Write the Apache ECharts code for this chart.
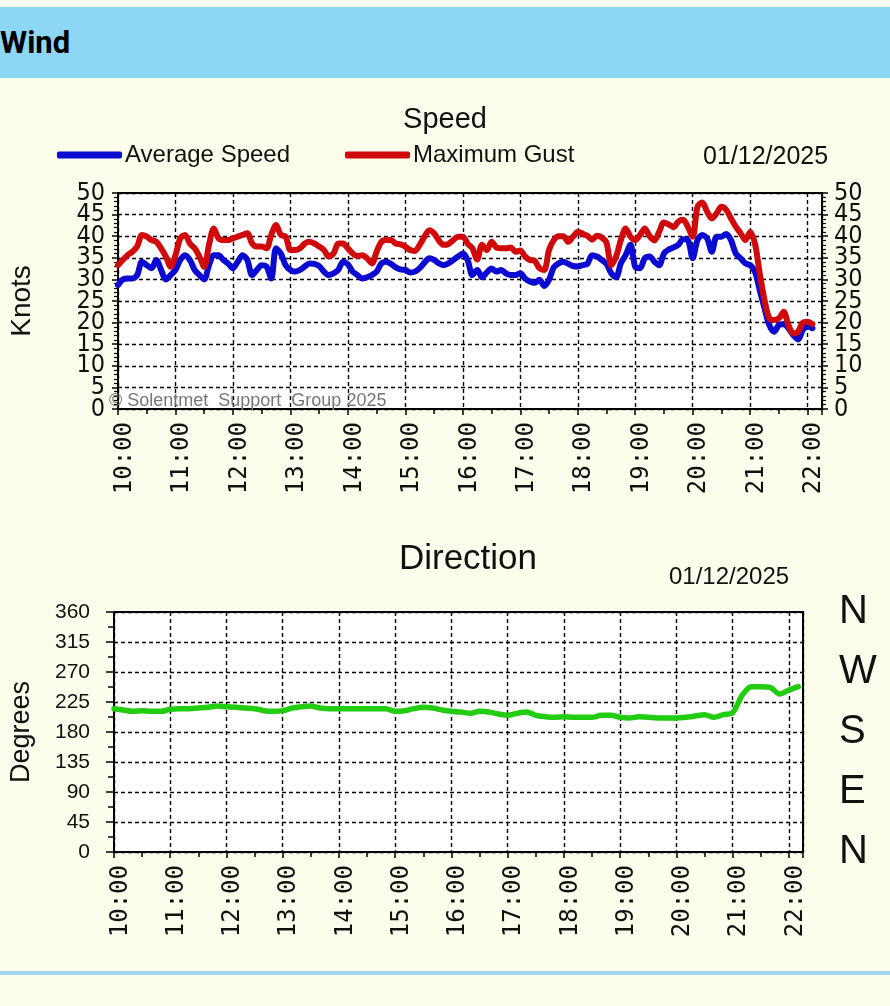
<!DOCTYPE html>
<html>
<head>
<meta charset="utf-8">
<script src="https://cdn.jsdelivr.net/npm/echarts@6/dist/echarts.min.js"></script>
<style>
  html, body { margin: 0; padding: 0; width: 890px; height: 1006px; background: #fdfdeb; overflow: hidden; }
  #hdr { position: absolute; left: 0; top: 7px; width: 890px; height: 71px; background: #8dd7f6; }
  #hdr span { position: absolute; left: 0; top: 19px; font: bold 31px Roboto, 'Liberation Sans', sans-serif; color: #000; line-height: 34px; }
  #sep { position: absolute; left: 0; top: 971px; width: 890px; height: 4px; background: #9ed6ee; }
  #chart { position: absolute; left: 0; top: 0; width: 890px; height: 1006px; }
</style>
</head>
<body>
<div id="hdr"><span>Wind</span></div>
<div id="sep"></div>
<div id="chart"></div>
<script>
// ---------------- data ----------------
const headerTitle = 'Wind';
const speedTitle = 'Speed';
const directionTitle = 'Direction';
const dateText = '01/12/2025';
const copyrightText = '\u00A9 Solentmet  Support  Group 2025';
const seriesNames = ['Average Speed', 'Maximum Gust'];
const speedAxisName = 'Knots';
const directionAxisName = 'Degrees';
const compassLabels = { 360: 'N', 270: 'W', 180: 'S', 90: 'E', 0: 'N' };

// samples every 5 minutes starting 10:00
const speedStartTime = '10:00';
const speedStepMinutes = 5;
const avgSpeed = [
  28.7, 30.0, 30.2, 30.2, 31.0, 34.1, 33.3, 32.6, 34.5, 32.2, 30.0, 31.0,
  32.2, 34.5, 35.6, 34.5, 32.2, 31.0, 30.0, 33.3, 35.6, 35.6, 34.5, 33.7,
  32.6, 34.1, 35.6, 34.5, 31.0, 32.2, 33.3, 33.0, 30.2, 37.2, 36.0, 33.3,
  32.2, 31.8, 32.2, 33.0, 33.7, 33.6, 33.1, 31.8, 31.0, 31.4, 32.2, 34.1,
  33.5, 31.8, 31.0, 30.2, 30.5, 31.0, 31.8, 33.7, 34.1, 33.6, 32.8, 32.3,
  32.2, 31.6, 31.8, 32.6, 33.9, 34.9, 34.5, 33.7, 33.3, 33.7, 34.5, 35.3,
  36.0, 34.5, 31.0, 32.2, 30.5, 31.6, 32.5, 31.8, 32.2, 31.4, 31.0, 31.0,
  31.4, 30.2, 29.5, 29.2, 29.9, 28.5, 29.9, 32.8, 33.7, 34.1, 33.6, 33.1,
  33.0, 33.3, 33.6, 35.6, 35.3, 34.5, 33.6, 31.4, 30.5, 33.7, 35.6, 38.0,
  32.9, 32.6, 34.9, 35.3, 34.1, 33.3, 36.0, 36.9, 37.4, 38.0, 39.3, 39.1,
  34.9, 39.1, 40.3, 39.5, 36.4, 39.9, 39.9, 40.5, 39.1, 36.0, 34.9, 33.7,
  33.3, 31.8, 27.5, 23.3, 19.4, 17.9, 19.4, 19.7, 18.7, 17.1, 16.1, 18.3,
  19.1, 18.7
];
const maxGust = [
  33.3, 34.5, 35.6, 36.4, 37.6, 40.3, 39.9, 39.1, 38.7, 37.2, 35.3, 32.9,
  35.6, 39.5, 40.3, 38.3, 37.2, 35.3, 32.9, 38.0, 41.8, 39.5, 39.1, 39.1,
  39.5, 39.9, 40.3, 40.7, 38.3, 37.6, 37.6, 37.2, 40.3, 42.6, 40.3, 39.9,
  36.8, 36.8, 37.2, 38.3, 38.7, 38.3, 37.6, 36.8, 35.3, 36.0, 38.3, 38.3,
  37.2, 36.0, 35.4, 35.6, 34.9, 33.7, 36.4, 38.7, 39.1, 39.1, 38.3, 38.1,
  37.6, 36.8, 36.6, 38.0, 39.9, 41.4, 40.7, 39.0, 38.0, 38.2, 39.1, 39.9,
  39.9, 38.3, 37.2, 34.6, 38.0, 36.8, 38.7, 37.4, 37.2, 37.2, 37.4, 36.4,
  36.7, 35.3, 34.5, 34.3, 32.6, 32.2, 36.8, 39.1, 40.0, 40.0, 38.7, 39.9,
  41.0, 40.6, 40.1, 39.2, 40.1, 39.7, 38.5, 33.3, 35.3, 39.1, 41.8, 39.9,
  39.1, 40.3, 41.8, 40.0, 39.0, 41.0, 43.2, 42.7, 42.1, 43.4, 43.8, 42.1,
  39.9, 46.8, 47.8, 45.7, 44.1, 45.3, 46.8, 46.1, 44.1, 42.2, 40.7, 39.1,
  41.0, 38.3, 31.4, 25.2, 21.0, 20.6, 21.0, 22.5, 19.4, 17.5, 17.9, 20.0,
  20.2, 19.7
];

// samples every 10 minutes starting 10:00
const dirStartTime = '10:00';
const dirStepMinutes = 10;
const direction = [
  215, 213, 211, 212, 211, 211,
  214, 215, 215, 216, 217, 219,
  218, 217, 216, 215, 212, 211,
  212, 216, 218, 219, 216, 215,
  215, 215, 215, 215, 215, 215,
  211, 212, 215, 217, 216, 213,
  211, 210, 208, 211, 210, 207,
  205, 208, 210, 205, 203, 202,
  203, 202, 202, 202, 205, 205,
  202, 201, 203, 202, 201, 201,
  201, 202, 204, 206, 202, 206,
  209, 235, 248, 248, 247, 237,
  243, 248
];

const hourTicks = ['10:00','11:00','12:00','13:00','14:00','15:00','16:00','17:00','18:00','19:00','20:00','21:00','22:00'];
const speedTicks = [0, 5, 10, 15, 20, 25, 30, 35, 40, 45, 50];
const degreeTicks = [0, 45, 90, 135, 180, 225, 270, 315, 360];

// ---------------- helpers ----------------
function toMin(s) { const p = s.split(':'); return (+p[0]) * 60 + (+p[1]); }
const axisOrigin = toMin(hourTicks[0]);
function pairs(start, step, vals) {
  const s0 = toMin(start) - axisOrigin;
  return vals.map((v, i) => [s0 + i * step, v]);
}
function fmtTime(v) {
  if (v % 60 !== 0) return '';
  const h = axisOrigin / 60 + v / 60;
  const lbl = (h < 10 ? '0' : '') + h + ':00';
  return hourTicks.indexOf(lbl) >= 0 ? lbl : '';
}
// speed labels split over two overlaid axes so that none is dropped as "overlapping"
const oddSpeed = v => (speedTicks.indexOf(v) >= 0 && v % 10 !== 0) ? String(v) : '';
const evenSpeed = v => (speedTicks.indexOf(v) >= 0 && v % 10 === 0) ? String(v) : '';

const narrow = "'Liberation Sans Narrow','DejaVu Sans Condensed','Liberation Sans',sans-serif";
const sans = "'Liberation Sans',Arial,sans-serif";
const mono = "'DejaVu Sans Mono',monospace";
const xMax = 735;
const black = '#000';

function xAxisCfg(grid) {
  return {
    type: 'value', gridIndex: grid, min: 0, max: xMax, interval: 60,
    axisLine: { show: true, lineStyle: { color: black, width: 2 } },
    axisTick: { show: true, inside: false, length: 6, lineStyle: { color: black, width: 1.5 } },
    minorTick: { show: true, splitNumber: 2, length: 5, lineStyle: { color: black, width: 1.5 } },
    splitLine: { show: true, lineStyle: { color: black, type: [4, 3], width: 1.4 } },
    axisLabel: { rotate: 90, margin: 13, formatter: fmtTime, fontFamily: mono, fontSize: 24, color: '#111',
      showMaxLabel: false, verticalAlign: 'top', lineHeight: 13 }
  };
}
function speedAxis(pos, labelled5, withLine) {
  return {
    type: 'value', gridIndex: 0, min: 0, max: 50, interval: labelled5 ? 5 : 10, position: pos, offset: 0,
    axisLine: { show: withLine, lineStyle: { color: black, width: 2 } },
    axisTick: { show: withLine, length: 6, lineStyle: { color: black, width: 1.5 } },
    minorTick: { show: withLine, splitNumber: 5, length: 4, lineStyle: { color: black, width: 1.2 } },
    splitLine: { show: withLine && pos === 'left', lineStyle: { color: black, type: [4, 3], width: 1.4 } },
    axisLabel: { margin: pos === 'left' ? 13 : 12, fontFamily: narrow, fontSize: 25, color: '#111',
      formatter: labelled5 ? oddSpeed : evenSpeed }
  };
}

const chart = echarts.init(document.getElementById('chart'), null, { renderer: 'canvas' });
const yAxes = [
  speedAxis('left', true, true),
  speedAxis('left', false, false),
  speedAxis('right', true, true),
  speedAxis('right', false, false),
  { type: 'value', gridIndex: 1, min: 0, max: 360, interval: 45, position: 'left',
    name: directionAxisName, nameLocation: 'middle', nameGap: 79, nameRotate: 90,
    nameTextStyle: { fontFamily: sans, fontSize: 27, color: '#111' },
    axisLine: { show: true, lineStyle: { color: black, width: 2 } },
    axisTick: { show: true, length: 8, lineStyle: { color: black, width: 1.5 } },
    minorTick: { show: true, splitNumber: 2, length: 6, lineStyle: { color: black, width: 1.5 } },
    splitLine: { show: true, lineStyle: { color: black, type: [4, 3], width: 1.4 } },
    axisLabel: { margin: 24, fontFamily: sans, fontSize: 21, color: '#111', showMinLabel: true, showMaxLabel: true } },
  { type: 'value', gridIndex: 1, min: 0, max: 360, interval: 90, position: 'right',
    axisLine: { show: false }, axisTick: { show: false }, splitLine: { show: false },
    axisLabel: { margin: 36, fontFamily: sans, fontSize: 40, color: '#111', formatter: v => compassLabels[v] || '',
      showMinLabel: true, showMaxLabel: true } }
];
yAxes[0].name = speedAxisName;
yAxes[0].nameLocation = 'middle';
yAxes[0].nameGap = 82;
yAxes[0].nameRotate = 90;
yAxes[0].nameTextStyle = { fontFamily: sans, fontSize: 28, color: '#111' };

chart.setOption({
  animation: false,
  title: [
    { text: speedTitle, left: 440, top: 100, textAlign: 'center', textStyle: { fontFamily: sans, fontSize: 29, fontWeight: 'normal', color: '#111' } },
    { text: dateText, left: 698, top: 140, textStyle: { fontFamily: sans, fontSize: 25, fontWeight: 'normal', color: '#111' } },
    { text: copyrightText, left: 104, top: 387, textStyle: { fontFamily: sans, fontSize: 18, fontWeight: 'normal', color: '#777' } },
    { text: directionTitle, left: 463, top: 537, textAlign: 'center', textStyle: { fontFamily: sans, fontSize: 35, fontWeight: 'normal', color: '#111' } },
    { text: dateText, left: 664, top: 560, textStyle: { fontFamily: sans, fontSize: 24, fontWeight: 'normal', color: '#111' } }
  ],
  legend: [
    { data: [seriesNames[0]], left: 57, top: 143, padding: 0, itemWidth: 65, itemHeight: 7, icon: 'roundRect', itemGap: 5,
      textStyle: { fontFamily: sans, fontSize: 24, color: '#111', padding: [0, 0, 0, -2] } },
    { data: [seriesNames[1]], left: 345, top: 143, padding: 0, itemWidth: 65, itemHeight: 7, icon: 'roundRect', itemGap: 5,
      textStyle: { fontFamily: sans, fontSize: 24, color: '#111', padding: [0, 0, 0, -2] } }
  ],
  grid: [
    { left: 118, top: 193, width: 704, height: 216, show: true, backgroundColor: '#fff', borderColor: black, borderWidth: 2 },
    { left: 113, top: 612, width: 690, height: 240, show: true, backgroundColor: '#fff', borderColor: black, borderWidth: 2 }
  ],
  xAxis: [xAxisCfg(0), xAxisCfg(1)],
  yAxis: yAxes,
  series: [
    { name: seriesNames[0], type: 'line', xAxisIndex: 0, yAxisIndex: 0, data: pairs(speedStartTime, speedStepMinutes, avgSpeed),
      showSymbol: false, smooth: 0.3, lineStyle: { color: '#0a0ad0', width: 6, cap: 'round', join: 'round' }, itemStyle: { color: '#0a0ad0' } },
    { name: seriesNames[1], type: 'line', xAxisIndex: 0, yAxisIndex: 0, data: pairs(speedStartTime, speedStepMinutes, maxGust),
      showSymbol: false, smooth: 0.3, lineStyle: { color: '#d00a0a', width: 6, cap: 'round', join: 'round' }, itemStyle: { color: '#d00a0a' } },
    { name: 'Direction', type: 'line', xAxisIndex: 1, yAxisIndex: 4, data: pairs(dirStartTime, dirStepMinutes, direction),
      showSymbol: false, smooth: 0.3, lineStyle: { color: '#22cc11', width: 5.5, cap: 'round', join: 'round' }, itemStyle: { color: '#22cc11' } }
  ]
});
</script>
</body>
</html>
